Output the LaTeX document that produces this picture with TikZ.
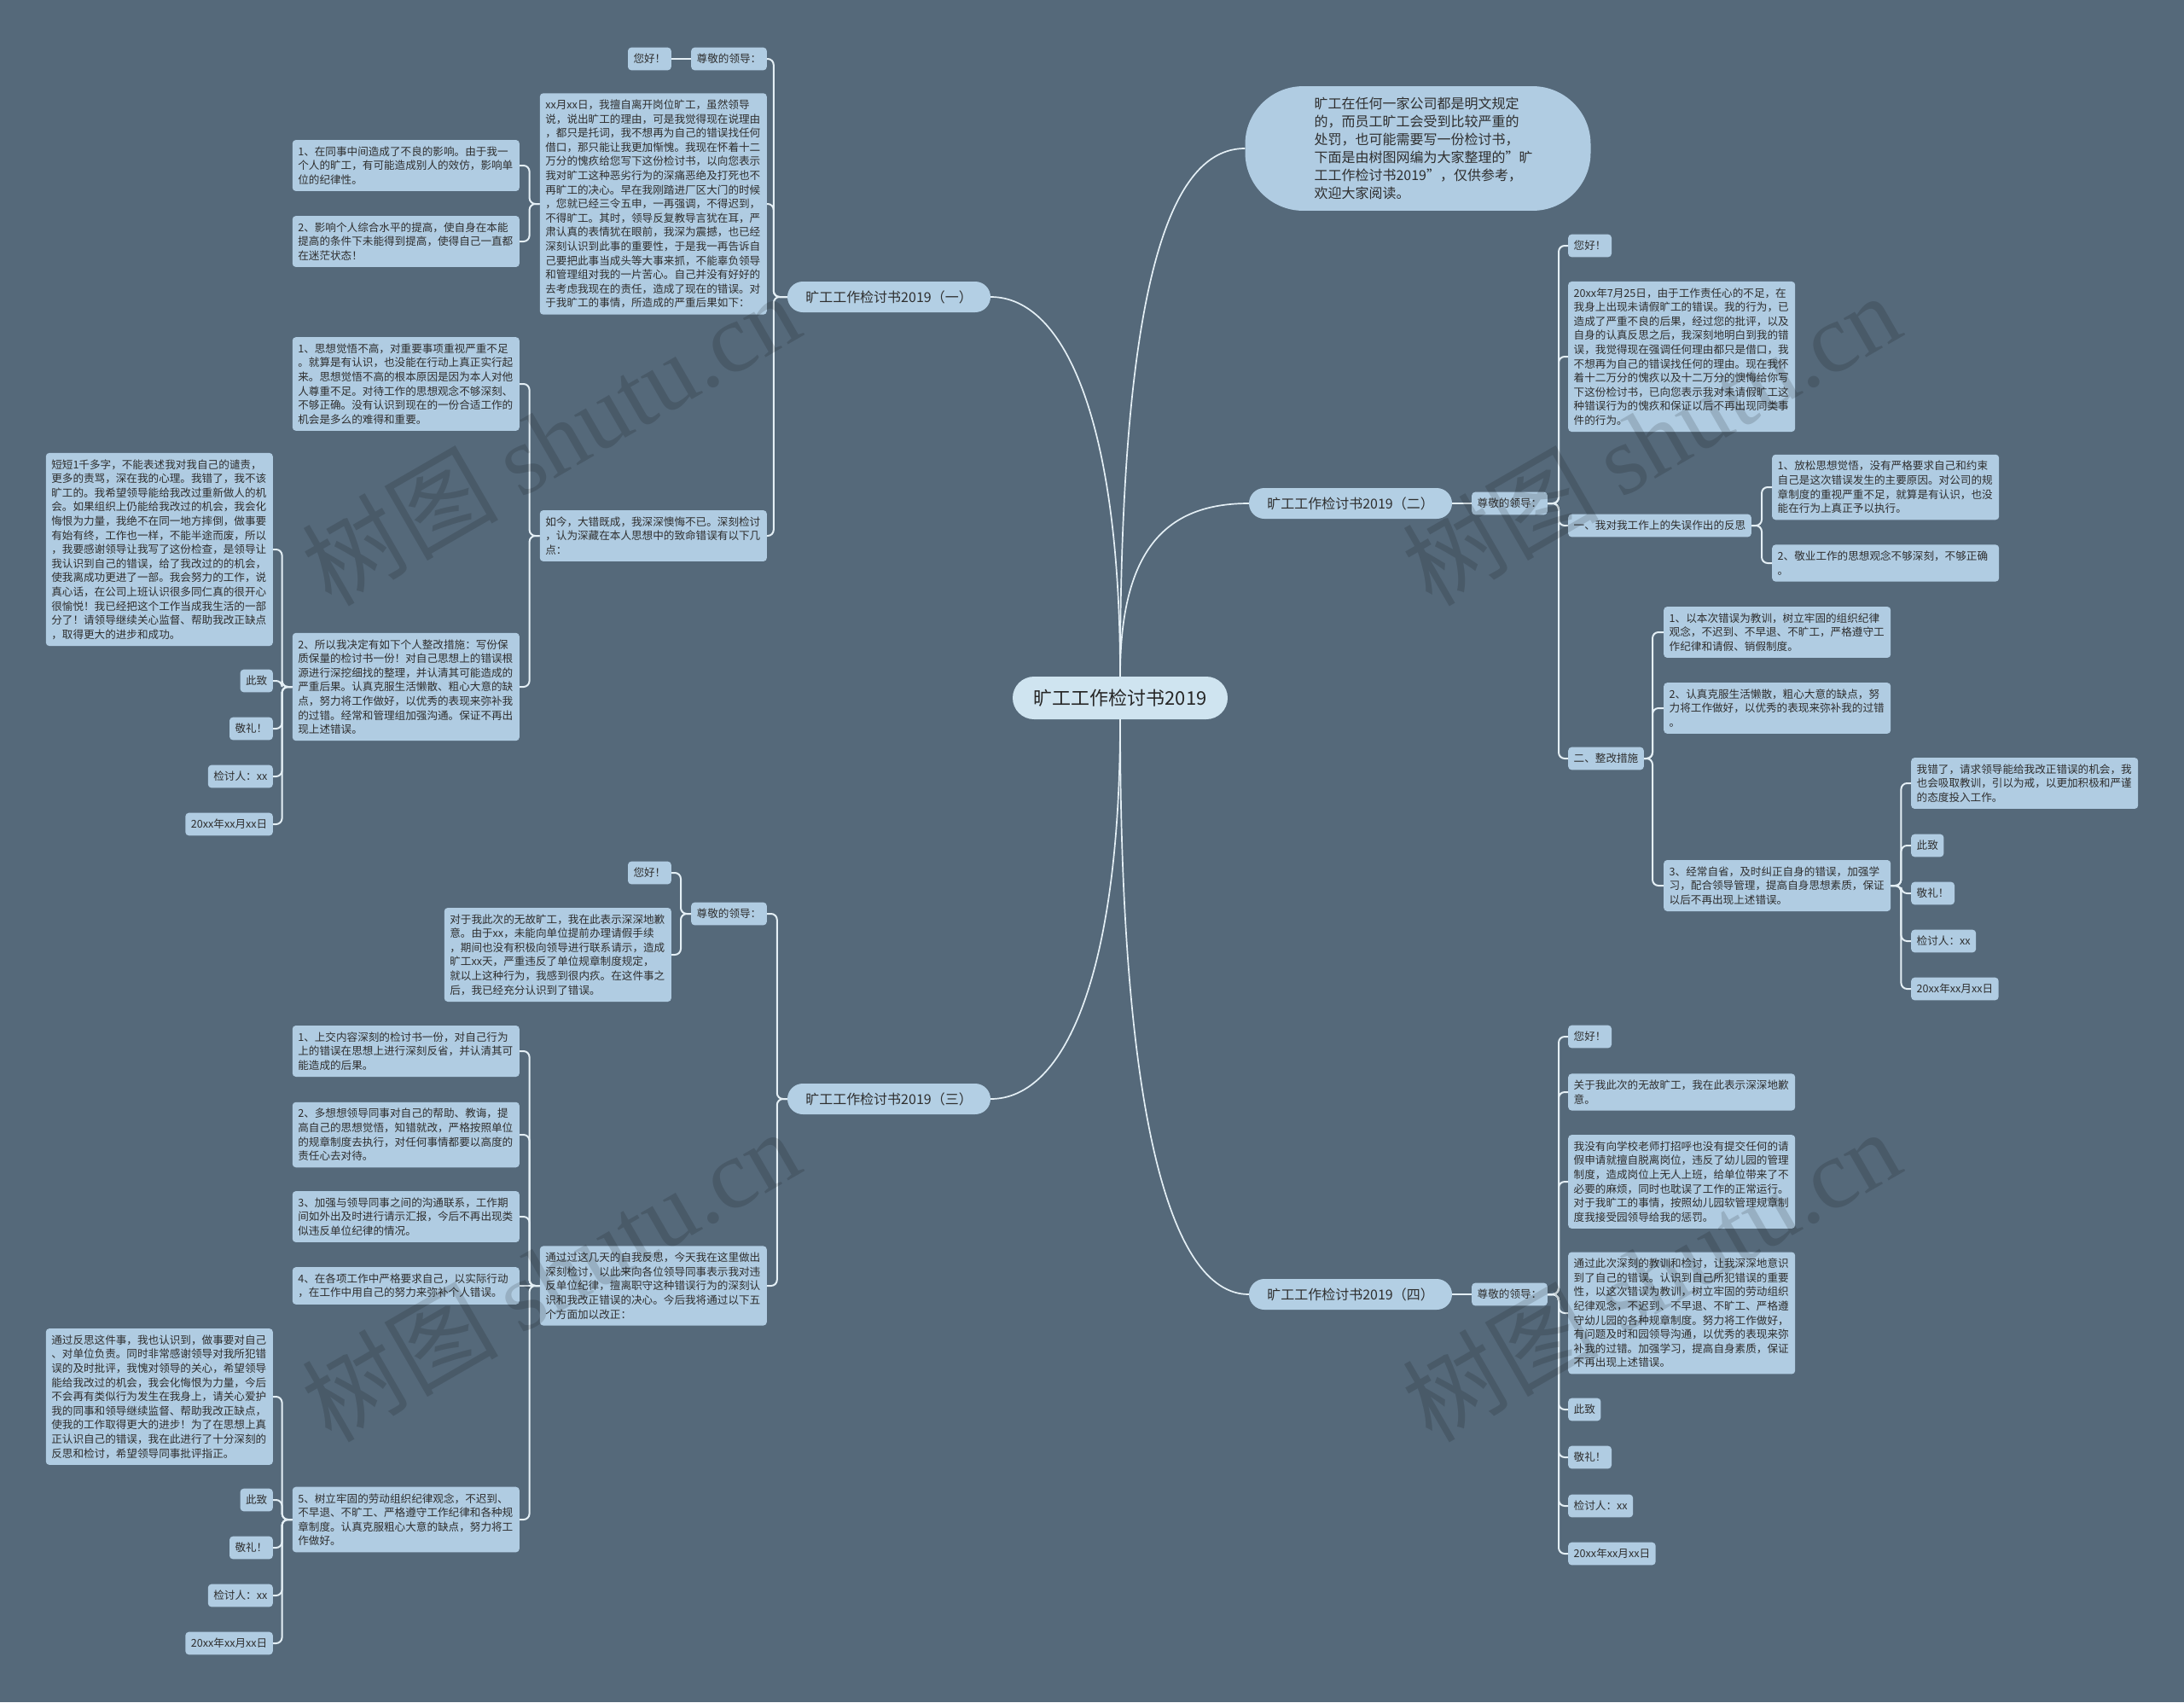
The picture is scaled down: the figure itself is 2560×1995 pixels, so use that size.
\documentclass[tikz,border=0pt]{standalone}
\usepackage{fontspec}
\setmainfont{Noto Sans CJK SC}
\newfontfamily\wmlat{Liberation Serif}
\usetikzlibrary{calc}
\definecolor{bgc}{HTML}{55697A}
\definecolor{nfill}{HTML}{B0CCE2}
\definecolor{bfill}{HTML}{B3CFE4}
\definecolor{cfill}{HTML}{CFE4F0}
\definecolor{lcol}{HTML}{E4EFF5}
\definecolor{tcol}{HTML}{2E2E2E}
\newcommand\fsn{\fontsize{12.6pt}{16.6pt}\selectfont}
\newcommand\lconn[3]{\draw[conn] (#1.west) -- ++(-#3,0) |- (#2.east);}
\newcommand\rconn[3]{\draw[conn] (#1.east) -- ++(#3,0) |- (#2.west);}
\tikzset{
  bx/.style={fill=nfill, rounded corners=4pt, inner xsep=6.5pt, inner ysep=7.5pt, text=tcol, font=\fsn},
  para/.style={bx, text width=253pt, align=left},
  conn/.style={draw=lcol, line width=2pt, rounded corners=7pt},
  curv/.style={draw=lcol, line width=1.7pt},
  branch/.style={fill=bfill, rounded corners=18pt, minimum width=238pt, minimum height=36pt, inner xsep=4pt, text=tcol, font=\fontsize{16pt}{20pt}\selectfont},
  cen/.style={fill=cfill, rounded corners=25pt, minimum width=252pt, minimum height=50pt, inner xsep=6pt, text=black!85, font=\fontsize{22pt}{26pt}\selectfont},
  intro/.style={fill=nfill, rounded corners=68pt, text width=243pt, align=left, inner xsep=81pt, inner ysep=13pt, text=tcol, font=\fontsize{16pt}{21pt}\selectfont},
  wm/.style={text=black, text opacity=0.14, font=\fontsize{115pt}{120pt}\selectfont, rotate=30}
}
\begin{document}
\begin{tikzpicture}[x=1pt,y=-1pt]
\fill[bgc] (0,0) rectangle (2560,1995);
\useasboundingbox (0,0) rectangle (2560,1995);

% central and main branches
\node[cen] (c) at (1313,818) {旷工工作检讨书2019};
\node[intro] (intro) at (1662,174) {旷工在任何一家公司都是明文规定\\的，而员工旷工会受到比较严重的\\处罚，也可能需要写一份检讨书，\\下面是由树图网编为大家整理的"旷\\工工作检讨书2019"，仅供参考，\\欢迎大家阅读。};
\node[branch] (b1) at (1042,348) {旷工工作检讨书2019（一）};
\node[branch] (b2) at (1583,590) {旷工工作检讨书2019（二）};
\node[branch] (b3) at (1042,1288) {旷工工作检讨书2019（三）};
\node[branch] (b4) at (1583,1517) {旷工工作检讨书2019（四）};

\draw[curv] (c.north) .. controls (1313,300) and (1380,174) .. (intro.west);
\draw[curv] (c.north) .. controls (1313,500) and (1250,348) .. (b1.east);
\draw[curv] (c.north) .. controls (1313,640) and (1370,590) .. (b2.west);
\draw[curv] (c.south) .. controls (1313,1136) and (1250,1288) .. (b3.east);
\draw[curv] (c.south) .. controls (1313,1300) and (1370,1517) .. (b4.west);

% ---------- branch 1 ----------
\node[bx, anchor=east] (a1) at (899,69) {尊敬的领导：};
\node[bx, anchor=east] (a1h) at (787,69) {您好！};
\node[para, anchor=east] (a2) at (899,239) {xx月xx日，我擅自离开岗位旷工，虽然领导\\说，说出旷工的理由，可是我觉得现在说理由\\，都只是托词，我不想再为自己的错误找任何\\借口，那只能让我更加惭愧。我现在怀着十二\\万分的愧疚给您写下这份检讨书，以向您表示\\我对旷工这种恶劣行为的深痛恶绝及打死也不\\再旷工的决心。早在我刚踏进厂区大门的时候\\，您就已经三令五申，一再强调，不得迟到，\\不得旷工。其时，领导反复教导言犹在耳，严\\肃认真的表情犹在眼前，我深为震撼，也已经\\深刻认识到此事的重要性，于是我一再告诉自\\己要把此事当成头等大事来抓，不能辜负领导\\和管理组对我的一片苦心。自己并没有好好的\\去考虑我现在的责任，造成了现在的错误。对\\于我旷工的事情，所造成的严重后果如下：};
\node[para, anchor=east] (a3) at (899,628) {如今，大错既成，我深深懊悔不已。深刻检讨\\，认为深藏在本人思想中的致命错误有以下几\\点：};
\node[para, anchor=east] (a21) at (609,194) {1、在同事中间造成了不良的影响。由于我一\\个人的旷工，有可能造成别人的效仿，影响单\\位的纪律性。};
\node[para, anchor=east] (a22) at (609,283) {2、影响个人综合水平的提高，使自身在本能\\提高的条件下未能得到提高，使得自己一直都\\在迷茫状态！};
\node[para, anchor=east] (a31) at (609,450) {1、思想觉悟不高，对重要事项重视严重不足\\。就算是有认识，也没能在行动上真正实行起\\来。思想觉悟不高的根本原因是因为本人对他\\人尊重不足。对待工作的思想观念不够深刻、\\不够正确。没有认识到现在的一份合适工作的\\机会是多么的难得和重要。};
\node[para, anchor=east] (a32) at (609,805) {2、所以我决定有如下个人整改措施：写份保\\质保量的检讨书一份！对自己思想上的错误根\\源进行深挖细找的整理，并认清其可能造成的\\严重后果。认真克服生活懒散、粗心大意的缺\\点，努力将工作做好，以优秀的表现来弥补我\\的过错。经常和管理组加强沟通。保证不再出\\现上述错误。};
\node[para, anchor=east] (a321) at (320,644) {短短1千多字，不能表述我对我自己的谴责，\\更多的责骂，深在我的心理。我错了，我不该\\旷工的。我希望领导能给我改过重新做人的机\\会。如果组织上仍能给我改过的机会，我会化\\悔恨为力量，我绝不在同一地方摔倒，做事要\\有始有终，工作也一样，不能半途而废，所以\\，我要感谢领导让我写了这份检查，是领导让\\我认识到自己的错误，给了我改过的的机会，\\使我离成功更进了一部。我会努力的工作，说\\真心话，在公司上班认识很多同仁真的很开心\\很愉悦！我已经把这个工作当成我生活的一部\\分了！请领导继续关心监督、帮助我改正缺点\\，取得更大的进步和成功。};
\node[bx, anchor=east] (a322) at (320,798) {此致};
\node[bx, anchor=east] (a323) at (320,854) {敬礼！};
\node[bx, anchor=east] (a324) at (320,910) {检讨人：xx};
\node[bx, anchor=east] (a325) at (320,966) {20xx年xx月xx日};

\lconn{b1}{a1}{16}
\lconn{b1}{a2}{16}
\lconn{b1}{a3}{16}
\draw[conn] (a1.west) -- (a1h.east);
\lconn{a2}{a21}{12}
\lconn{a2}{a22}{12}
\lconn{a3}{a31}{12}
\lconn{a3}{a32}{12}
\lconn{a32}{a321}{12}
\lconn{a32}{a322}{12}
\lconn{a32}{a323}{12}
\lconn{a32}{a324}{12}
\lconn{a32}{a325}{12}

% ---------- branch 2 ----------
\node[bx, anchor=west] (d1) at (1725,590) {尊敬的领导：};
\node[bx, anchor=west] (d11) at (1838,288) {您好！};
\node[para, anchor=west] (d12) at (1838,418) {20xx年7月25日，由于工作责任心的不足，在\\我身上出现未请假旷工的错误。我的行为，已\\造成了严重不良的后果，经过您的批评，以及\\自身的认真反思之后，我深刻地明白到我的错\\误，我觉得现在强调任何理由都只是借口，我\\不想再为自己的错误找任何的理由。现在我怀\\着十二万分的愧疚以及十二万分的懊悔给你写\\下这份检讨书，已向您表示我对未请假旷工这\\种错误行为的愧疚和保证以后不再出现同类事\\件的行为。};
\node[bx, anchor=west] (d13) at (1838,616) {一、我对我工作上的失误作出的反思};
\node[bx, anchor=west] (d14) at (1838,889) {二、整改措施};
\node[para, anchor=west] (d131) at (2077,571) {1、放松思想觉悟，没有严格要求自己和约束\\自己是这次错误发生的主要原因。对公司的规\\章制度的重视严重不足，就算是有认识，也没\\能在行为上真正予以执行。};
\node[para, anchor=west] (d132) at (2077,660) {2、敬业工作的思想观念不够深刻，不够正确\\。};
\node[para, anchor=west] (d141) at (1950,741) {1、以本次错误为教训，树立牢固的组织纪律\\观念，不迟到、不早退、不旷工，严格遵守工\\作纪律和请假、销假制度。};
\node[para, anchor=west] (d142) at (1950,830) {2、认真克服生活懒散，粗心大意的缺点，努\\力将工作做好，以优秀的表现来弥补我的过错\\。};
\node[para, anchor=west] (d143) at (1950,1038) {3、经常自省，及时纠正自身的错误，加强学\\习，配合领导管理，提高自身思想素质，保证\\以后不再出现上述错误。};
\node[para, anchor=west] (d1431) at (2240,918) {我错了，请求领导能给我改正错误的机会，我\\也会吸取教训，引以为戒，以更加积极和严谨\\的态度投入工作。};
\node[bx, anchor=west] (d1432) at (2240,991) {此致};
\node[bx, anchor=west] (d1433) at (2240,1047) {敬礼！};
\node[bx, anchor=west] (d1434) at (2240,1103) {检讨人：xx};
\node[bx, anchor=west] (d1435) at (2240,1159) {20xx年xx月xx日};

\draw[conn] (b2.east) -- (d1.west);
\rconn{d1}{d11}{13}
\rconn{d1}{d12}{13}
\rconn{d1}{d13}{13}
\rconn{d1}{d14}{13}
\rconn{d13}{d131}{12}
\rconn{d13}{d132}{12}
\rconn{d14}{d141}{10}
\rconn{d14}{d142}{10}
\rconn{d14}{d143}{10}
\rconn{d143}{d1431}{12}
\rconn{d143}{d1432}{12}
\rconn{d143}{d1433}{12}
\rconn{d143}{d1434}{12}
\rconn{d143}{d1435}{12}

% ---------- branch 3 ----------
\node[bx, anchor=east] (e1) at (899,1071) {尊敬的领导：};
\node[bx, anchor=east] (e11) at (787,1023) {您好！};
\node[para, anchor=east] (e12) at (787,1119) {对于我此次的无故旷工，我在此表示深深地歉\\意。由于xx，未能向单位提前办理请假手续\\，期间也没有积极向领导进行联系请示，造成\\旷工xx天，严重违反了单位规章制度规定，\\就以上这种行为，我感到很内疚。在这件事之\\后，我已经充分认识到了错误。};
\node[para, anchor=east] (e2) at (899,1507) {通过过这几天的自我反思，今天我在这里做出\\深刻检讨，以此来向各位领导同事表示我对违\\反单位纪律，擅离职守这种错误行为的深刻认\\识和我改正错误的决心。今后我将通过以下五\\个方面加以改正：};
\node[para, anchor=east] (e21) at (609,1232) {1、上交内容深刻的检讨书一份，对自己行为\\上的错误在思想上进行深刻反省，并认清其可\\能造成的后果。};
\node[para, anchor=east] (e22) at (609,1330) {2、多想想领导同事对自己的帮助、教诲，提\\高自己的思想觉悟，知错就改，严格按照单位\\的规章制度去执行，对任何事情都要以高度的\\责任心去对待。};
\node[para, anchor=east] (e23) at (609,1426) {3、加强与领导同事之间的沟通联系，工作期\\间如外出及时进行请示汇报，今后不再出现类\\似违反单位纪律的情况。};
\node[para, anchor=east] (e24) at (609,1507) {4、在各项工作中严格要求自己，以实际行动\\，在工作中用自己的努力来弥补个人错误。};
\node[para, anchor=east] (e25) at (609,1781) {5、树立牢固的劳动组织纪律观念，不迟到、\\不早退、不旷工、严格遵守工作纪律和各种规\\章制度。认真克服粗心大意的缺点，努力将工\\作做好。};
\node[para, anchor=east] (e251) at (320,1637) {通过反思这件事，我也认识到，做事要对自己\\、对单位负责。同时非常感谢领导对我所犯错\\误的及时批评，我愧对领导的关心，希望领导\\能给我改过的机会，我会化悔恨为力量，今后\\不会再有类似行为发生在我身上，请关心爱护\\我的同事和领导继续监督、帮助我改正缺点，\\使我的工作取得更大的进步！为了在思想上真\\正认识自己的错误，我在此进行了十分深刻的\\反思和检讨，希望领导同事批评指正。};
\node[bx, anchor=east] (e252) at (320,1758) {此致};
\node[bx, anchor=east] (e253) at (320,1814) {敬礼！};
\node[bx, anchor=east] (e254) at (320,1870) {检讨人：xx};
\node[bx, anchor=east] (e255) at (320,1926) {20xx年xx月xx日};

\lconn{b3}{e1}{12}
\lconn{b3}{e2}{12}
\lconn{e1}{e11}{12}
\lconn{e1}{e12}{12}
\lconn{e2}{e21}{12}
\lconn{e2}{e22}{12}
\lconn{e2}{e23}{12}
\draw[conn] (e2.west) -- (e24.east);
\lconn{e2}{e25}{12}
\lconn{e25}{e251}{12}
\lconn{e25}{e252}{12}
\lconn{e25}{e253}{12}
\lconn{e25}{e254}{12}
\lconn{e25}{e255}{12}

% ---------- branch 4 ----------
\node[bx, anchor=west] (f1) at (1725,1517) {尊敬的领导：};
\node[bx, anchor=west] (f11) at (1838,1215) {您好！};
\node[para, anchor=west] (f12) at (1838,1280) {关于我此次的无故旷工，我在此表示深深地歉\\意。};
\node[para, anchor=west] (f13) at (1838,1385) {我没有向学校老师打招呼也没有提交任何的请\\假申请就擅自脱离岗位，违反了幼儿园的管理\\制度，造成岗位上无人上班，给单位带来了不\\必要的麻烦，同时也耽误了工作的正常运行。\\对于我旷工的事情，按照幼儿园软管理规章制\\度我接受园领导给我的惩罚。};
\node[para, anchor=west] (f14) at (1838,1539) {通过此次深刻的教训和检讨，让我深深地意识\\到了自己的错误。认识到自己所犯错误的重要\\性，以这次错误为教训，树立牢固的劳动组织\\纪律观念，不迟到、不早退、不旷工、严格遵\\守幼儿园的各种规章制度。努力将工作做好，\\有问题及时和园领导沟通，以优秀的表现来弥\\补我的过错。加强学习，提高自身素质，保证\\不再出现上述错误。};
\node[bx, anchor=west] (f15) at (1838,1652) {此致};
\node[bx, anchor=west] (f16) at (1838,1708) {敬礼！};
\node[bx, anchor=west] (f17) at (1838,1765) {检讨人：xx};
\node[bx, anchor=west] (f18) at (1838,1821) {20xx年xx月xx日};

\draw[conn] (b4.east) -- (f1.west);
\rconn{f1}{f11}{13}
\rconn{f1}{f12}{13}
\rconn{f1}{f13}{13}
\rconn{f1}{f14}{13}
\rconn{f1}{f15}{13}
\rconn{f1}{f16}{13}
\rconn{f1}{f17}{13}
\rconn{f1}{f18}{13}

% watermarks (translucent, over everything as in the reference)
\node[wm] (wm1) at (645,514) {树图 {\wmlat shutu.cn}};
\node[wm] (wm2) at (1935,514) {树图 {\wmlat shutu.cn}};
\node[wm] (wm3) at (645,1494) {树图 {\wmlat shutu.cn}};
\node[wm] (wm4) at (1935,1494) {树图 {\wmlat shutu.cn}};
\end{tikzpicture}
\end{document}
